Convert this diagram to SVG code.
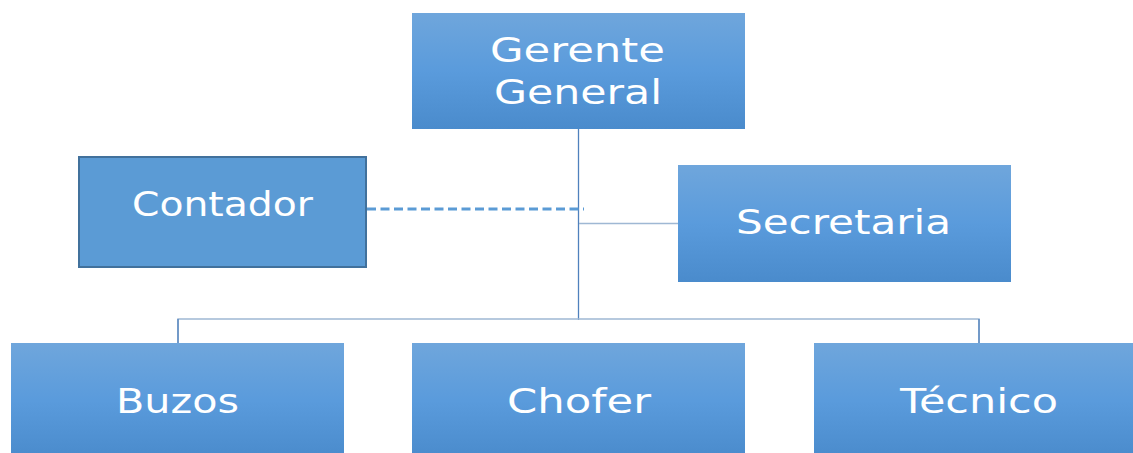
<svg xmlns="http://www.w3.org/2000/svg" width="1133" height="453" viewBox="0 0 1133 453">
<defs>
<linearGradient id="g" x1="0" y1="0" x2="0" y2="1">
<stop offset="0" stop-color="#6fa6dc"/>
<stop offset="0.5" stop-color="#5a9bdc"/>
<stop offset="1" stop-color="#4a8bcc"/>
</linearGradient>
<style>
.box{fill:url(#g);}
.lbl{font-family:"DejaVu Sans",sans-serif;font-size:34.5px;fill:#ffffff;}
.ln{stroke:#4f81bd;stroke-width:1.3;fill:none;}
.lh{stroke:#9fb8d4;stroke-width:1.5;fill:none;}
</style>
</defs>
<rect width="1133" height="453" fill="#ffffff"/>
<g id="connectors">
<line class="ln" x1="578.5" y1="129" x2="578.5" y2="320"/>
<line class="lh" x1="579" y1="223.5" x2="678" y2="223.5"/>
<polyline class="lh" points="178,343 178,319 979,319 979,343"/>
<line class="ln" x1="178" y1="319" x2="178" y2="343"/>
<line class="ln" x1="979" y1="319" x2="979" y2="343"/>
<line x1="367" y1="209" x2="584" y2="209" stroke="#5b9bd5" stroke-width="3" stroke-dasharray="9,4.5"/>
</g>
<g id="gerente">
<rect class="box" x="412" y="13" width="333" height="116"/>
<text class="lbl" x="490" y="62" textLength="175" lengthAdjust="spacingAndGlyphs">Gerente</text>
<text class="lbl" x="494" y="104" textLength="168" lengthAdjust="spacingAndGlyphs">General</text>
</g>
<g id="contador">
<rect x="79" y="157" width="287" height="110" fill="#5b9bd5" stroke="#41719c" stroke-width="2"/>
<text class="lbl" x="132" y="216" textLength="181" lengthAdjust="spacingAndGlyphs">Contador</text>
</g>
<g id="secretaria">
<rect class="box" x="678" y="165" width="333" height="117"/>
<text class="lbl" x="736" y="234" textLength="215" lengthAdjust="spacingAndGlyphs">Secretaria</text>
</g>
<g id="buzos">
<rect class="box" x="11" y="343" width="333" height="115"/>
<text class="lbl" x="116" y="413" textLength="123" lengthAdjust="spacingAndGlyphs">Buzos</text>
</g>
<g id="chofer">
<rect class="box" x="412" y="343" width="333" height="115"/>
<text class="lbl" x="507" y="413" textLength="144" lengthAdjust="spacingAndGlyphs">Chofer</text>
</g>
<g id="tecnico">
<rect class="box" x="814" y="343" width="333" height="115"/>
<text class="lbl" x="900" y="413" textLength="158" lengthAdjust="spacingAndGlyphs">Técnico</text>
</g>
</svg>
